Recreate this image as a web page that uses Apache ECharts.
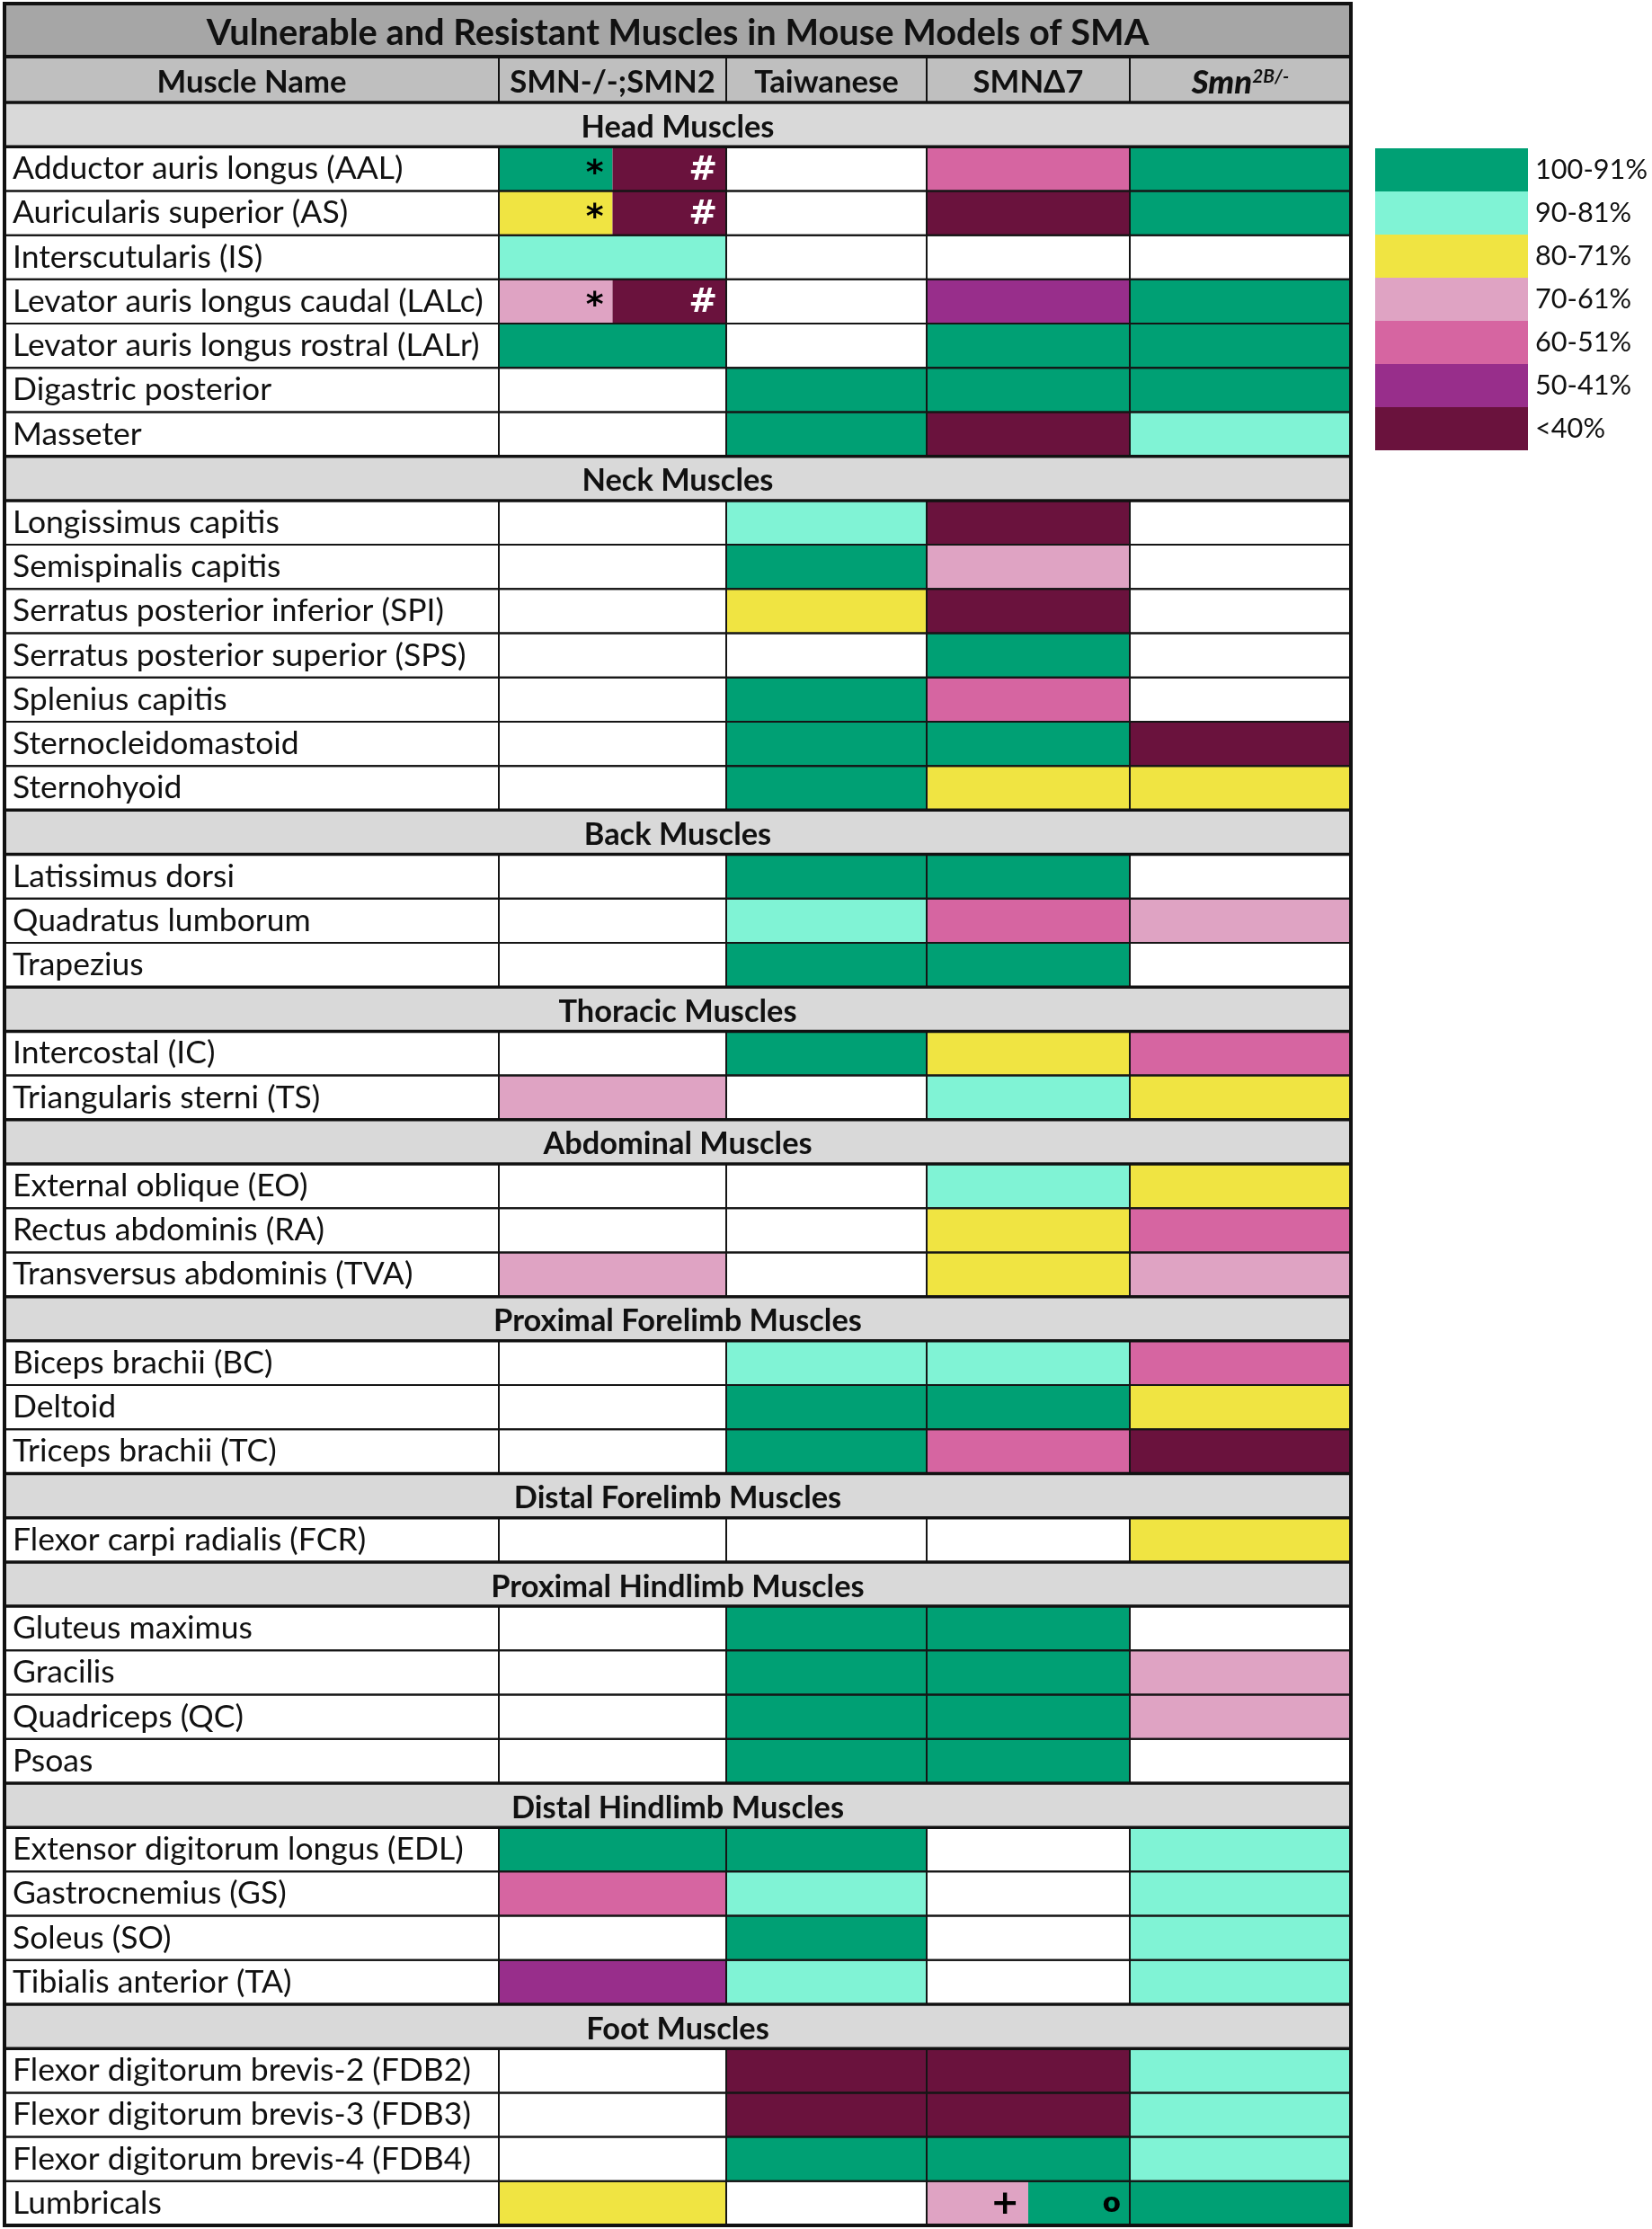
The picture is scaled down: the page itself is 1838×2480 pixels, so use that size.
<!DOCTYPE html>
<html><head><meta charset="utf-8">
<script src="https://cdn.jsdelivr.net/npm/echarts@6/dist/echarts.min.js"></script>
<style>html,body{margin:0;padding:0;background:#fff}#c{width:1838px;height:2480px}</style>
</head><body><div id="c"></div><script>
// ---------------- DATA ----------------
const titleText = 'Vulnerable and Resistant Muscles in Mouse Models of SMA';
const nameHeader = 'Muscle Name';
const modelNames = ['SMN-/-;SMN2', 'Taiwanese', 'SMNΔ7', 'Smn2B/-'];
const levelLabels = ['100-91%', '90-81%', '80-71%', '70-61%', '60-51%', '50-41%', '<40%'];
const levelColors = ['#00A074', '#80F3D5', '#F0E442', '#DFA3C3', '#D665A1', '#982E8B', '#6A123D'];
const sectionNames = ['Head Muscles', 'Neck Muscles', 'Back Muscles', 'Thoracic Muscles', 'Abdominal Muscles',
  'Proximal Forelimb Muscles', 'Distal Forelimb Muscles', 'Proximal Hindlimb Muscles', 'Distal Hindlimb Muscles', 'Foot Muscles'];
const muscleNames = [
  'Adductor auris longus (AAL)', 'Auricularis superior (AS)', 'Interscutularis (IS)', 'Levator auris longus caudal (LALc)',
  'Levator auris longus rostral (LALr)', 'Digastric posterior', 'Masseter',
  'Longissimus capitis', 'Semispinalis capitis', 'Serratus posterior inferior (SPI)', 'Serratus posterior superior (SPS)',
  'Splenius capitis', 'Sternocleidomastoid', 'Sternohyoid',
  'Latissimus dorsi', 'Quadratus lumborum', 'Trapezius',
  'Intercostal (IC)', 'Triangularis sterni (TS)',
  'External oblique (EO)', 'Rectus abdominis (RA)', 'Transversus abdominis (TVA)',
  'Biceps brachii (BC)', 'Deltoid', 'Triceps brachii (TC)',
  'Flexor carpi radialis (FCR)',
  'Gluteus maximus', 'Gracilis', 'Quadriceps (QC)', 'Psoas',
  'Extensor digitorum longus (EDL)', 'Gastrocnemius (GS)', 'Soleus (SO)', 'Tibialis anterior (TA)',
  'Flexor digitorum brevis-2 (FDB2)', 'Flexor digitorum brevis-3 (FDB3)', 'Flexor digitorum brevis-4 (FDB4)', 'Lumbricals'
];
const muscleSection = [0,0,0,0,0,0,0, 1,1,1,1,1,1,1, 2,2,2, 3,3, 4,4,4, 5,5,5, 6, 7,7,7,7, 8,8,8,8, 9,9,9,9];
// level index into levelLabels; null = blank cell (split cells listed in splitCells)
const smn2Values = [null,null,1,null,0,null,null, null,null,null,null,null,null,null, null,null,null, null,3,
  null,null,3, null,null,null, null, null,null,null,null, 0,4,null,5, null,null,null,2];
const taiwaneseValues = [null,null,null,null,null,0,0, 1,0,2,null,0,0,0, 0,1,0, 0,null,
  null,null,null, 1,0,0, null, 0,0,0,0, 0,1,0,1, 6,6,0,null];
const smnD7Values = [4,6,null,5,0,0,6, 6,3,6,0,4,0,2, 0,4,0, 2,1,
  1,2,2, 1,0,4, null, 0,0,0,0, null,null,null,null, 6,6,0,null];
const smn2bValues = [0,0,null,0,0,0,1, null,null,null,null,null,6,2, null,3,null, 4,2,
  2,4,3, 4,2,6, 2, null,3,3,null, 1,1,1,1, 1,1,1,0];
const splitCells = [
  { muscle: 'Adductor auris longus (AAL)', model: 0, left: 0, leftMark: '*', right: 6, rightMark: '#' },
  { muscle: 'Auricularis superior (AS)', model: 0, left: 2, leftMark: '*', right: 6, rightMark: '#' },
  { muscle: 'Levator auris longus caudal (LALc)', model: 0, left: 3, leftMark: '*', right: 6, rightMark: '#' },
  { muscle: 'Lumbricals', model: 2, left: 3, leftMark: '+', right: 0, rightMark: 'o' }
];

// ---------------- LAYOUT ----------------
const FONT = 'Lato';
const G = { left: 5, top: 114, width: 1498, height: 2362 };
const colEdges = [0, 550, 803, 1026, 1252, 1498]; // x-axis units (px inside grid)
const ctx = document.createElement('canvas').getContext('2d');
function fit(text, weight, target) {
  ctx.font = weight + ' 100px ' + FONT;
  return Math.round(100 * target / ctx.measureText(text).width * 10) / 10;
}
const bodySize = fit('Adductor auris longus (AAL)', 'normal', 434);
const titleSize = fit(titleText, 'bold', 1049);
const headSize = fit(nameHeader, 'bold', 211);
const sectionSize = fit('Head Muscles', 'bold', 215);
const legendSize = fit('100-91%', 'normal', 125);

// rows
const rowLabels = [];
const rowIsSection = [];
const muscleRow = {};
sectionNames.forEach((s, si) => {
  rowLabels.push(s); rowIsSection.push(true);
  muscleNames.forEach((m, mi) => {
    if (muscleSection[mi] === si) { muscleRow[m] = rowLabels.length; rowLabels.push(m); rowIsSection.push(false); }
  });
});
const modelArrays = [smn2Values, taiwaneseValues, smnD7Values, smn2bValues];

const cellData = [];
muscleNames.forEach((m, mi) => {
  modelArrays.forEach((arr, j) => {
    const v = arr[mi];
    if (v !== null) cellData.push([colEdges[j + 1], colEdges[j + 2], muscleRow[m], v, '']);
  });
});
splitCells.forEach(s => {
  const a = colEdges[s.model + 1], b = colEdges[s.model + 2], mid = (a + b) / 2;
  cellData.push([a, mid, muscleRow[s.muscle], s.left, s.leftMark]);
  cellData.push([mid, b, muscleRow[s.muscle], s.right, s.rightMark]);
});
const borderData = [];
muscleNames.forEach(m => {
  for (let j = 0; j < 5; j++) borderData.push([colEdges[j], colEdges[j + 1], muscleRow[m]]);
});
const sectionData = sectionNames.map(s => [0, colEdges[5], rowLabels.indexOf(s), s]);

function rectOf(api) {
  const p0 = api.coord([api.value(0), api.value(2)]);
  const p1 = api.coord([api.value(1), api.value(2)]);
  const h = api.size([0, 1])[1];
  return { x: p0[0], y: p0[1] - h / 2, width: p1[0] - p0[0], height: h };
}

const chart = echarts.init(document.getElementById('c'), null, { renderer: 'canvas' });
const headerY = 92;
const colCenters = [];
for (let j = 0; j < 5; j++) colCenters.push(G.left + (colEdges[j] + colEdges[j + 1]) / 2);

const graphics = [
  { type: 'rect', shape: { x: G.left, y: 4, width: G.width, height: 59 }, style: { fill: '#A6A6A6' }, z: 1 },
  { type: 'rect', shape: { x: G.left, y: 63, width: G.width, height: 51 }, style: { fill: '#BFBFBF' }, z: 1 },
  { type: 'text', x: G.left + G.width / 2, y: 37, z: 5,
    style: { text: titleText, fontSize: titleSize, fontWeight: 'bold', fontFamily: FONT, fill: '#111', align: 'center', verticalAlign: 'middle' } },
  { type: 'text', x: colCenters[0], y: headerY, z: 5,
    style: { text: nameHeader, fontSize: headSize, fontWeight: 'bold', fontFamily: FONT, fill: '#111', align: 'center', verticalAlign: 'middle' } }
];
modelNames.forEach((n, j) => {
  if (n === 'Smn2B/-') {
    graphics.push({ type: 'text', x: colCenters[j + 1], y: headerY, z: 5,
      style: { text: '{i|Smn}{s|2B/-}', align: 'center', verticalAlign: 'middle',
        rich: { i: { fontSize: headSize * 1.05, fontWeight: 900, fontStyle: 'italic', fontFamily: FONT, fill: '#111' },
                s: { fontSize: headSize * 0.6, fontWeight: 'bold', fontStyle: 'italic', fontFamily: FONT, fill: '#111', padding: [0, 0, 14, 0] } } } });
  } else {
    graphics.push({ type: 'text', x: colCenters[j + 1], y: headerY, z: 5,
      style: { text: n, fontSize: headSize, fontWeight: 'bold', fontFamily: FONT, fill: '#111', align: 'center', verticalAlign: 'middle' } });
  }
});
for (let j = 1; j < 5; j++) {
  graphics.push({ type: 'line', z: 4, shape: { x1: G.left + colEdges[j], y1: 63, x2: G.left + colEdges[j], y2: 114 }, style: { stroke: '#111', lineWidth: 2 } });
}
graphics.push({ type: 'line', z: 6, shape: { x1: G.left, y1: 63, x2: G.left + G.width, y2: 63 }, style: { stroke: '#111', lineWidth: 4 } });
graphics.push({ type: 'rect', z: 20, shape: { x: G.left, y: 4, width: G.width, height: G.top + G.height - 4 }, style: { fill: 'none', stroke: '#111', lineWidth: 4 } });

chart.setOption({
  animation: false,
  backgroundColor: '#fff',
  grid: { left: G.left, top: G.top, width: G.width, height: G.height, containLabel: false },
  xAxis: { type: 'value', min: 0, max: colEdges[5], show: false },
  yAxis: {
    type: 'category', data: rowLabels, inverse: true,
    axisLine: { show: false }, axisTick: { show: false }, splitLine: { show: false },
    axisLabel: {
      inside: true, margin: 9, interval: 0, fontSize: bodySize, fontFamily: FONT, color: '#111',
      formatter: (v, i) => rowIsSection[i] ? '' : v
    },
    z: 10
  },
  visualMap: {
    type: 'piecewise', seriesIndex: 0, dimension: 3, orient: 'vertical', inverse: true, align: 'left',
    left: 1530, top: 165, padding: 0, itemWidth: 170, itemHeight: 48, itemGap: 0, textGap: 8,
    itemSymbol: 'rect', selectedMode: false, hoverLink: false,
    pieces: levelLabels.map((l, i) => ({ value: i, label: l, color: levelColors[i] })),
    textStyle: { fontSize: legendSize, fontFamily: FONT, color: '#111' }
  },
  graphic: graphics,
  series: [
    {
      type: 'custom', name: 'cells', data: cellData, z: 2,
      encode: { x: [0, 1], y: 2 },
      renderItem: (params, api) => {
        const r = rectOf(api);
        const mark = api.value(4);
        const children = [{ type: 'rect', shape: r, style: { fill: api.visual('color') } }];
        if (mark) {
          children.push({ type: 'text', style: {
            text: mark, x: r.x + r.width - 10, y: r.y + r.height / 2 + (mark === '*' ? 6 : 2),
            align: 'right', verticalAlign: 'middle', fontSize: mark === 'o' ? 30 : 38, fontWeight: 'bold',
            fontFamily: 'DejaVu Sans', fill: mark === '#' ? '#fff' : '#000' } });
        }
        return { type: 'group', children };
      }
    },
    {
      type: 'custom', name: 'borders', data: borderData, z: 3, silent: true,
      encode: { x: [0, 1], y: 2 },
      renderItem: (params, api) => ({ type: 'rect', shape: rectOf(api), style: { fill: 'none', stroke: '#151515', lineWidth: 2 } })
    },
    {
      type: 'custom', name: 'sections', data: sectionData, z: 4, silent: true,
      encode: { x: [0, 1], y: 2 },
      renderItem: (params, api) => {
        const r = rectOf(api);
        return { type: 'group', children: [
          { type: 'rect', shape: r, style: { fill: '#D9D9D9', stroke: '#111', lineWidth: 3.5 } },
          { type: 'text', style: { text: sectionData[params.dataIndex][3], x: r.x + r.width / 2, y: r.y + r.height / 2 + 3,
            align: 'center', verticalAlign: 'middle', fontSize: sectionSize, fontWeight: 'bold', fontFamily: FONT, fill: '#111' } }
        ] };
      }
    }
  ]
});
</script></body></html>
